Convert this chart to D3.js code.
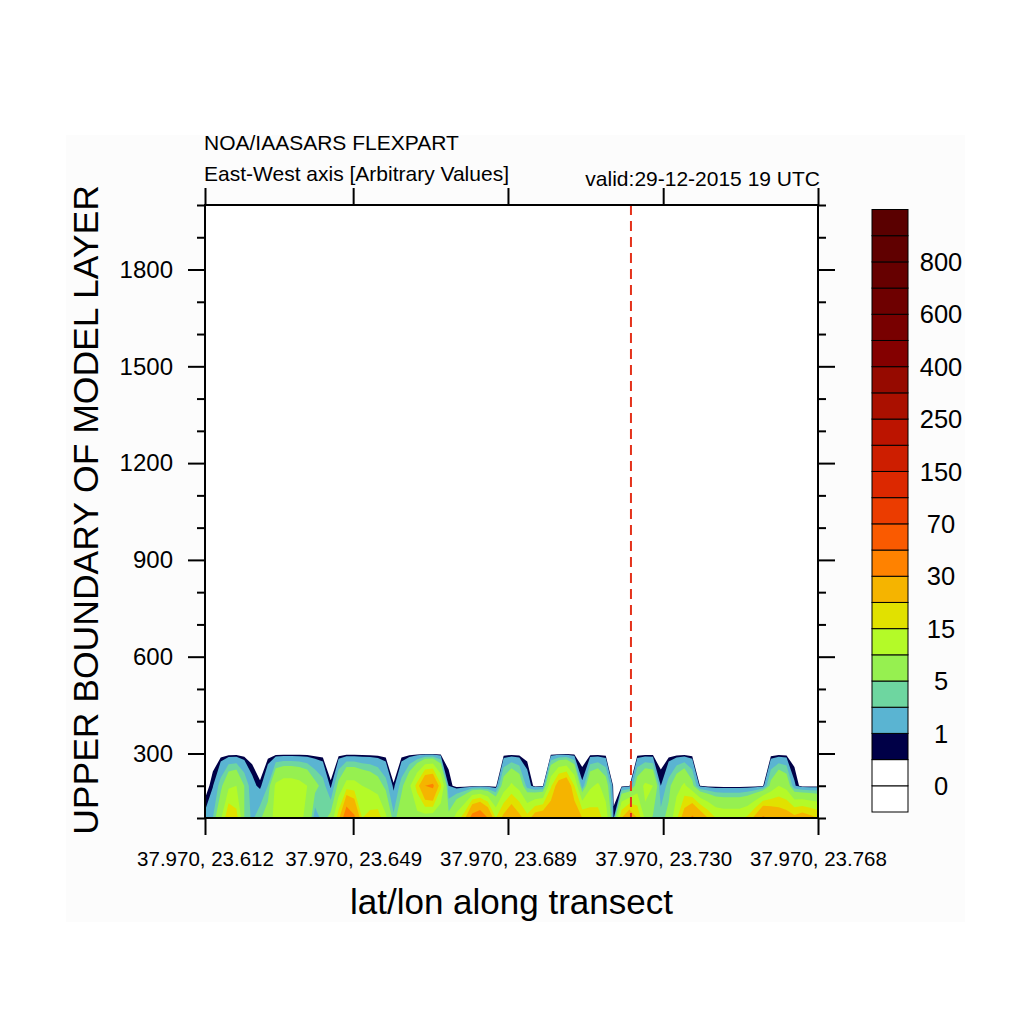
<!DOCTYPE html>
<html><head><meta charset="utf-8">
<script src="https://cdn.jsdelivr.net/npm/d3@7"></script>
<style>
body{margin:0;background:#ffffff;}
svg{display:block;font-family:"Liberation Sans",Arial,Helvetica,sans-serif;}
</style>
</head><body>
<svg id="chart" width="1024" height="1024"></svg>
<script>
// ---------------- data ----------------
const titleMain = "NOA/IAASARS FLEXPART";
const titleLeft = "East-West axis [Arbitrary Values]";
const titleRight = "valid:29-12-2015 19 UTC";
const xTitle = "lat/lon along transect";
const yTitle = "UPPER BOUNDARY OF MODEL LAYER";

// transect columns (longitude of first column and spacing)
const lonStart = 23.612;
const lonStep = 0.002;
// model layer upper boundaries (rows of the grid)
const heights = [100, 200, 300];

// concentration per column at each layer
const row100 = [1.3,3,9,20,17,5,2.5,4.5,7,12,12,13,11,9,1.5,4,6,18,40,32,15,17,18,11,3.5,8,9,8,7,6,5,6,12,18,35,40,30,15,22,27,22,17,24,26,27,28,28,26,20,18,17,13,0.8,20,27,20,9,4.5,4,6,14,24,32,26,20,15,14,14,14,16,22,32,28,25,24,22,24,22,20];
const row200 = [0,0.9,4,9,10,5,1.5,0.6,3,11,13,13,12,10,6,4,0.6,6,12,12,10,9,7,4,0.55,4,9,17,30,32,16,1,0,0,0,0,0,0,7,11,8,2,0,0.3,14,24,27,15,1.2,9,11,7,0,0,0.3,7,11,10,1,4,8,11,6,0.4,0,0,0,0,0,0,0,0.3,6,10,8,1.2,0,0,0];
const row300 = [0,0,0,0,0,0,0,0,0,0,0,0,0,0,0,0,0,0,0,0,0,0,0,0,0,0,0,0,0,0,0,0,0,0,0,0,0,0,0,0,0,0,0,0,0,0,0,0,0,0,0,0,0,0,0,0,0,0,0,0,0,0,0,0,0,0,0,0,0,0,0,0,0,0,0,0,0,0,0];

// contour levels and colours (one colour per colour-bar box, bottom to top)
const levels = [0,0.5,1,3,5,10,15,20,30,50,70,100,150,200,250,300,400,500,600,700,800,900];
const boxColors = ["#ffffff","#ffffff","#000047","#5ab4d2","#6ed6a0","#96f050","#b4fa28","#e1e100","#f5b400","#ff8200","#fa5a00","#eb3c00","#dc2800","#cd1e00","#bc1400","#aa1000","#960a00","#840000","#780000","#6e0000","#660000","#600000","#5a0000"];

// axes
const xDomain = [23.612, 23.768];
const yDomain = [100, 2000];
const xTickLons = [23.612, 23.6497, 23.6891, 23.7286, 23.768];
const xTickLabels = ["37.970, 23.612","37.970, 23.649","37.970, 23.689","37.970, 23.730","37.970, 23.768"];
const yMajorTicks = [300,600,900,1200,1500,1800];
const yMinorTicks = [100,200,400,500,700,800,1000,1100,1300,1400,1600,1700,1900,2000];
const sourceLon = 23.7204;

// ---------------- drawing ----------------
const svg = d3.select("#chart");
const L = 205, R = 818, T = 205, B = 818;

svg.append("rect").attr("x",66).attr("y",135).attr("width",899).attr("height",787).attr("fill","#fcfcfc");

const x = d3.scaleLinear().domain(xDomain).range([L, R]);
const y = d3.scaleLinear().domain(yDomain).range([B, T]);

svg.append("clipPath").attr("id","plotclip").append("rect")
  .attr("x",L).attr("y",T).attr("width",R-L).attr("height",B-T);

svg.append("rect").attr("x",L).attr("y",T).attr("width",R-L).attr("height",B-T).attr("fill","#ffffff");

// contour fill
const nx = row100.length, ny = heights.length;
const values = [].concat(row100, row200, row300);
const dH = heights[1] - heights[0];
const contours = d3.contours().size([nx, ny]).thresholds(levels.slice(1))(values);
const proj = d3.geoTransform({
  point: function(gx, gy) {
    this.stream.point(x(lonStart + (gx - 0.5) * lonStep), y(heights[0] + (gy - 0.5) * dH));
  }
});
const path = d3.geoPath(proj);
svg.append("g").attr("clip-path","url(#plotclip)")
  .selectAll("path").data(contours).join("path")
  .attr("d", path)
  .attr("fill", d => boxColors[levels.indexOf(d.value) + 1])
  .attr("stroke", "none");

// red dashed source line
svg.append("line")
  .attr("x1", x(sourceLon)).attr("x2", x(sourceLon))
  .attr("y1", T).attr("y2", B)
  .attr("stroke","#e4321b").attr("stroke-width",2)
  .attr("stroke-dasharray","10,6");

// axes
function styleAxis(g){
  g.select(".domain").remove();
  g.selectAll(".tick line").attr("stroke","#000").attr("stroke-width",2);
  g.selectAll(".tick text").attr("fill","#000");
}
const tickLen = 17, minorLen = 8;
// left
svg.append("g").attr("transform",`translate(${L},0)`)
  .call(d3.axisLeft(y).tickValues(yMajorTicks).tickSize(tickLen).tickPadding(15).tickFormat(d3.format("d")))
  .call(styleAxis)
  .call(g => g.selectAll("text").attr("font-size",24).attr("font-family","'Liberation Sans',Arial,sans-serif"));
svg.append("g").attr("transform",`translate(${L},0)`)
  .call(d3.axisLeft(y).tickValues(yMinorTicks).tickSize(minorLen).tickFormat(""))
  .call(styleAxis);
// right
svg.append("g").attr("transform",`translate(${R},0)`)
  .call(d3.axisRight(y).tickValues(yMajorTicks).tickSize(tickLen).tickFormat(""))
  .call(styleAxis);
svg.append("g").attr("transform",`translate(${R},0)`)
  .call(d3.axisRight(y).tickValues(yMinorTicks).tickSize(minorLen).tickFormat(""))
  .call(styleAxis);
// top
svg.append("g").attr("transform",`translate(0,${T})`)
  .call(d3.axisTop(x).tickValues(xTickLons).tickSize(tickLen).tickFormat(""))
  .call(styleAxis);
// bottom
svg.append("g").attr("transform",`translate(0,${B})`)
  .call(d3.axisBottom(x).tickValues(xTickLons).tickSize(tickLen).tickPadding(16).tickFormat((d,i) => xTickLabels[i]))
  .call(styleAxis)
  .call(g => g.selectAll("text").attr("font-size",20.5).attr("font-family","'Liberation Sans',Arial,sans-serif"));

// frame
svg.append("rect").attr("x",L).attr("y",T).attr("width",R-L).attr("height",B-T)
  .attr("fill","none").attr("stroke","#000").attr("stroke-width",2);

// titles
svg.append("text").attr("x",204).attr("y",150).attr("font-size",21).text(titleMain);
svg.append("text").attr("x",204).attr("y",181).attr("font-size",21).text(titleLeft);
svg.append("text").attr("x",820).attr("y",186).attr("font-size",21).attr("text-anchor","end").text(titleRight);
svg.append("text").attr("x",(L+R)/2).attr("y",914).attr("font-size",35).attr("text-anchor","middle").text(xTitle);
svg.append("text").attr("transform","translate(98,510) rotate(-90)").attr("font-size",35.5).attr("text-anchor","middle").text(yTitle);

// colour bar
const cbX = 872, cbW = 36;
const cb = d3.scaleLinear().domain([0, boxColors.length]).range([812, 209.5]);
const cbg = svg.append("g");
cbg.selectAll("rect").data(boxColors).join("rect")
  .attr("x", cbX).attr("width", cbW)
  .attr("y", (d,i) => cb(i+1)).attr("height", (d,i) => cb(i) - cb(i+1))
  .attr("fill", d => d).attr("stroke","#000").attr("stroke-width",1);
const labelled = levels.map((v,i) => ({v, i})).filter(d => d.i % 2 === 0);
cbg.selectAll("text").data(labelled).join("text")
  .attr("x", 941).attr("y", d => cb(d.i + 1)).attr("dy","0.36em")
  .attr("text-anchor","middle").attr("font-size",25.5)
  .text(d => d.v);
</script>
</body></html>
